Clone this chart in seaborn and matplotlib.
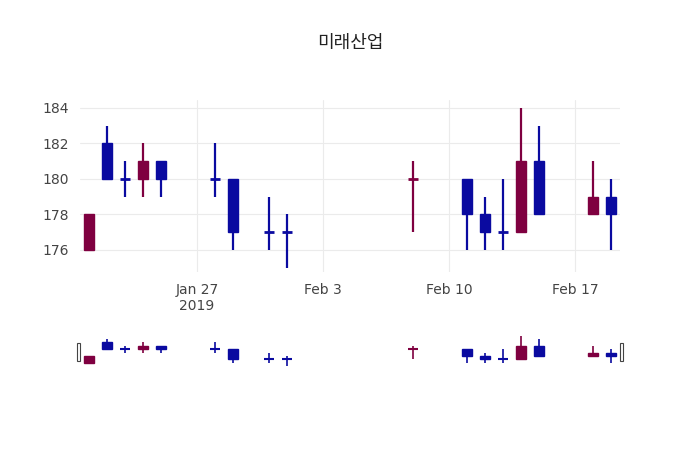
import pandas as pd
import numpy as np
import matplotlib
matplotlib.use("Agg")
import matplotlib.pyplot as plt
import matplotlib.dates as mdates
import seaborn as sns
from matplotlib.patches import Rectangle

sns.set_theme(style="white")
plt.rcParams["font.family"] = ["DejaVu Sans", "Noto Sans CJK KR", "Noto Sans CJK JP",
                               "Noto Sans CJK SC"]

dates = pd.to_datetime([
    "2019-01-21", "2019-01-22", "2019-01-23", "2019-01-24", "2019-01-25",
    "2019-01-28", "2019-01-29", "2019-01-31", "2019-02-01", "2019-02-08",
    "2019-02-11", "2019-02-12", "2019-02-13", "2019-02-14", "2019-02-15",
    "2019-02-18", "2019-02-19"])
opens = [178, 180, 180, 181, 180, 180, 180, 177, 177, 180, 180, 178, 177, 177, 178, 179, 179]
closes = [176, 182, 180, 180, 181, 180, 177, 177, 177, 180, 178, 177, 177, 181, 181, 178, 178]
highs = [178, 183, 181, 182, 181, 182, 180, 179, 178, 181, 180, 179, 180, 184, 183, 181, 180]
lows = [176, 180, 179, 179, 179, 179, 176, 176, 175, 177, 176, 176, 176, 177, 178, 178, 176]
up = [False, True, True, False, True, True, True, True, True, False, True, True, True, False, True, False, True]

df = pd.DataFrame({"date": dates, "open": opens, "close": closes,
                   "high": highs, "low": lows, "up": up})
df["x"] = mdates.date2num(df["date"])
df["color"] = np.where(df["up"], "#0a0aa0", "#7f0040")

x0 = mdates.date2num(pd.Timestamp("2019-01-20 12:00"))
x1 = mdates.date2num(pd.Timestamp("2019-02-19 12:00"))


def draw_candles(ax, lw_wick, lw_flat, width=0.6):
    for _, r in df.iterrows():
        ax.vlines(r["x"], r["low"], r["high"], color=r["color"], lw=lw_wick, zorder=2)
        lo, hi = sorted([r["open"], r["close"]])
        if hi == lo:
            ax.hlines(lo, r["x"] - width / 2, r["x"] + width / 2, color=r["color"], lw=lw_flat, zorder=3)
        else:
            ax.bar(r["x"], hi - lo, bottom=lo, width=width, color=r["color"],
                   edgecolor=r["color"], lw=1, zorder=3)


fig = plt.figure(figsize=(7, 4.5), dpi=100)
ax = fig.add_axes([80 / 700, 1 - 272 / 450, 540 / 700, 172 / 450])
draw_candles(ax, 1.6, 2.0)
ax.set_xlim(x0, x1)
ax.set_ylim(174.76, 184.45)
ax.set_yticks([176, 178, 180, 182, 184])
ticks = mdates.date2num(pd.to_datetime(["2019-01-27", "2019-02-03", "2019-02-10", "2019-02-17"]))
ax.set_xticks(ticks)
ax.set_xticklabels(["Jan 27\n2019", "Feb 3", "Feb 10", "Feb 17"])
ax.grid(True, color="#ebebeb", lw=0.8)
ax.set_axisbelow(True)
for s in ax.spines.values():
    s.set_visible(False)
ax.tick_params(axis="both", length=0, labelsize=10, colors="#444444", pad=8)

# range slider
sl = fig.add_axes([80 / 700, 1 - 368 / 450, 540 / 700, 34 / 450])
draw_candles(sl, 1.2, 1.5)
sl.set_xlim(x0, x1)
sl.set_ylim(174.5, 184.5)
sl.set_xticks([])
sl.set_yticks([])
for s in sl.spines.values():
    s.set_visible(False)
for hx in [-0.005, 1.0]:
    sl.add_patch(Rectangle((hx, 0.2), 0.005, 0.55, transform=sl.transAxes,
                           facecolor="white", edgecolor="#444444", lw=0.8,
                           clip_on=False, zorder=5))

fig.text(350 / 700, 1 - 43 / 450, "미래산업", ha="center", va="center",
         fontsize=13, color="#222222")

fig.savefig("out.png", dpi=100, facecolor="white")
